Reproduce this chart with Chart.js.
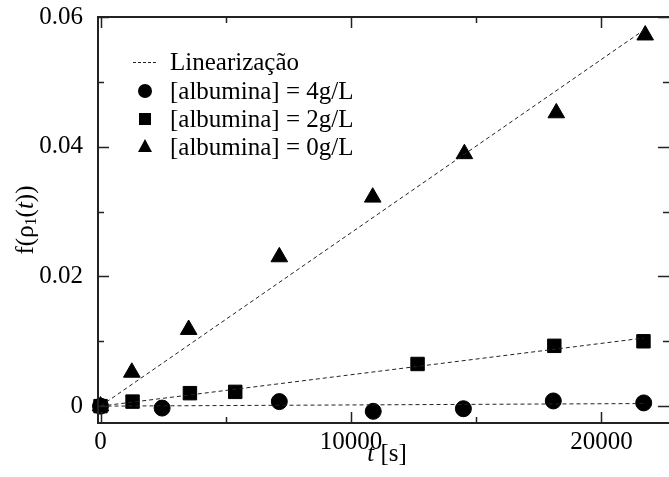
<!DOCTYPE html>
<html>
<head>
<meta charset="utf-8">
<script src="https://cdn.jsdelivr.net/npm/chart.js@4/dist/chart.umd.min.js"></script>
<style>
  html, body { margin: 0; padding: 0; background: #fff; }
  #wrap { width: 669px; height: 477px; }
</style>
</head>
<body>
<div id="wrap"><canvas id="chart" width="669" height="477"></canvas></div>
<script>
// data
const t4 = [0, 2460, 7140, 10890, 14490, 18080, 21690];
const f4 = [0, -0.0003, 0.0007, -0.0008, -0.0004, 0.0008, 0.0005];
const t2 = [0, 1280, 3570, 5380, 12660, 18120, 21680];
const f2 = [0, 0.0007, 0.0020, 0.0022, 0.0065, 0.0093, 0.0100];
const t0 = [0, 1250, 3520, 7140, 10870, 14530, 18200, 21750];
const f0 = [0, 0.0052, 0.0118, 0.0230, 0.0322, 0.0389, 0.0452, 0.0572];

// linear fits (end points)
const fitT = [0, 21700];
const fit4 = [0, 0.0004];
const fit2 = [0, 0.0105];
const fit0 = [0, 0.0580];

const xTicks = [0, 5000, 10000, 15000, 20000];
const xLabels = { 0: "0", 10000: "10000", 20000: "20000" };
const yTicks = [0, 0.01, 0.02, 0.03, 0.04, 0.05, 0.06];
const yLabels = { 0: "0", 0.02: "0.02", 0.04: "0.04", 0.06: "0.06" };

const legendLabels = ["Linearização", "[albumina] = 4g/L", "[albumina] = 2g/L", "[albumina] = 0g/L"];

const SERIF = "'Liberation Serif', 'Times New Roman', serif";
Chart.defaults.font.family = SERIF;
Chart.defaults.font.size = 25;
Chart.defaults.color = "#000";

const pts = (xs, ys) => xs.map((x, i) => ({ x, y: ys[i] }));

const fitLine = (ys) => ({
  type: "line",
  data: pts(fitT, ys),
  borderColor: "#222",
  borderWidth: 1,
  borderDash: [4, 3],
  pointRadius: 0,
  showLine: true,
  fill: false,
  clip: false,
});

const markers = (xs, ys, style, r) => ({
  data: pts(xs, ys),
  pointStyle: style,
  pointRadius: r,
  pointHoverRadius: r,
  backgroundColor: "#000",
  borderColor: "#000",
  borderWidth: 1,
  showLine: false,
  clip: false,
});

// chart.js adds room for end labels; the frame here is fixed, so drop it
const noPad = (s) => {
  s.paddingLeft = 0; s.paddingRight = 0; s.paddingTop = 0; s.paddingBottom = 0;
};

const frame = {
  id: "frame",
  afterDatasetsDraw(chart) {
    const { ctx, chartArea: a, scales } = chart;
    ctx.save();
    ctx.strokeStyle = "#222";
    ctx.lineWidth = 2;
    ctx.beginPath();
    ctx.moveTo(a.right + 2, a.top);
    ctx.lineTo(a.left, a.top);
    ctx.lineTo(a.left, a.bottom);
    ctx.lineTo(a.right + 2, a.bottom);
    ctx.stroke();
    ctx.lineWidth = 1.5;
    ctx.beginPath();
    xTicks.forEach((v) => {
      const px = Math.round(scales.x.getPixelForValue(v)) + 0.5;
      const len = v in xLabels ? 11 : 6;
      ctx.moveTo(px, a.bottom); ctx.lineTo(px, a.bottom - len);
      ctx.moveTo(px, a.top); ctx.lineTo(px, a.top + len);
    });
    yTicks.forEach((v) => {
      const py = Math.round(scales.y.getPixelForValue(v)) + 0.5;
      const len = v in yLabels ? 11 : 6;
      ctx.moveTo(a.left, py); ctx.lineTo(a.left + len, py);
      ctx.moveTo(a.right, py); ctx.lineTo(a.right - len, py);
    });
    ctx.stroke();

    // legend
    const rows = [62, 91, 119, 147];
    const mx = 145;
    ctx.fillStyle = "#000";
    ctx.strokeStyle = "#222";
    ctx.lineWidth = 1;
    ctx.setLineDash([3, 2]);
    ctx.beginPath();
    ctx.moveTo(133, rows[0] + 0.5); ctx.lineTo(158, rows[0] + 0.5);
    ctx.stroke();
    ctx.setLineDash([]);
    ctx.beginPath();
    ctx.arc(mx, rows[1], 7, 0, Math.PI * 2);
    ctx.fill();
    ctx.fillRect(mx - 6, rows[2] - 6, 12, 12);
    ctx.beginPath();
    ctx.moveTo(mx, rows[3] - 8);
    ctx.lineTo(mx + 7, rows[3] + 5);
    ctx.lineTo(mx - 7, rows[3] + 5);
    ctx.closePath();
    ctx.fill();
    ctx.font = "25px " + SERIF;
    ctx.textBaseline = "middle";
    legendLabels.forEach((txt, i) => ctx.fillText(txt, 170, rows[i] + 1));

    // axis titles
    const xc = 387;
    const ty = 454;
    ctx.font = "italic 25px " + SERIF;
    const wT = ctx.measureText("t").width;
    ctx.font = "25px " + SERIF;
    const wS = ctx.measureText(" [s]").width;
    let x0 = xc - (wT + wS) / 2;
    ctx.textAlign = "left";
    ctx.font = "italic 25px " + SERIF;
    ctx.fillText("t", x0, ty);
    ctx.font = "25px " + SERIF;
    ctx.fillText(" [s]", x0 + wT, ty);

    ctx.translate(26, (a.top + a.bottom) / 2);
    ctx.rotate(-Math.PI / 2);
    const parts = [
      ["f(ρ", "25px", 0],
      ["1", "16px", 6],
      ["(", "25px", 0],
      ["t", "italic 25px", 0],
      ["))", "25px", 0],
    ];
    let total = 0;
    parts.forEach(([s, f]) => { ctx.font = f + " " + SERIF; total += ctx.measureText(s).width; });
    let cx = -total / 2;
    parts.forEach(([s, f, dy]) => {
      ctx.font = f + " " + SERIF;
      ctx.fillText(s, cx, dy);
      cx += ctx.measureText(s).width;
    });
    ctx.restore();
  },
};

new Chart(document.getElementById("chart"), {
  type: "scatter",
  data: {
    datasets: [
      fitLine(fit4),
      fitLine(fit2),
      fitLine(fit0),
      markers(t4, f4, "circle", 8),
      markers(t2, f2, "rect", 9.5),
      markers(t0, f0, "triangle", 9.6),
    ],
  },
  options: {
    responsive: false,
    animation: false,
    layout: { autoPadding: false, padding: { top: 17, right: 0, left: 0, bottom: 0 } },
    plugins: { legend: { display: false }, tooltip: { enabled: false } },
    scales: {
      x: {
        type: "linear",
        min: -100,
        max: 22700,
        afterBuildTicks: (s) => { s.ticks = xTicks.map((v) => ({ value: v })); },
        afterFit: (s) => { s.height = 54; noPad(s); },
        ticks: { autoSkip: false, maxRotation: 0, padding: -4, callback: (v) => xLabels[v] ?? "" },
        grid: { display: false },
        border: { display: false },
      },
      y: {
        type: "linear",
        min: -0.0026,
        max: 0.06,
        afterBuildTicks: (s) => { s.ticks = yTicks.map((v) => ({ value: v })); },
        afterFit: (s) => { s.width = 98; noPad(s); },
        ticks: { autoSkip: false, padding: 7, callback: (v) => yLabels[+v.toFixed(2)] ?? "" },
        grid: { display: false },
        border: { display: false },
      },
    },
  },
  plugins: [frame],
});
</script>
</body>
</html>
